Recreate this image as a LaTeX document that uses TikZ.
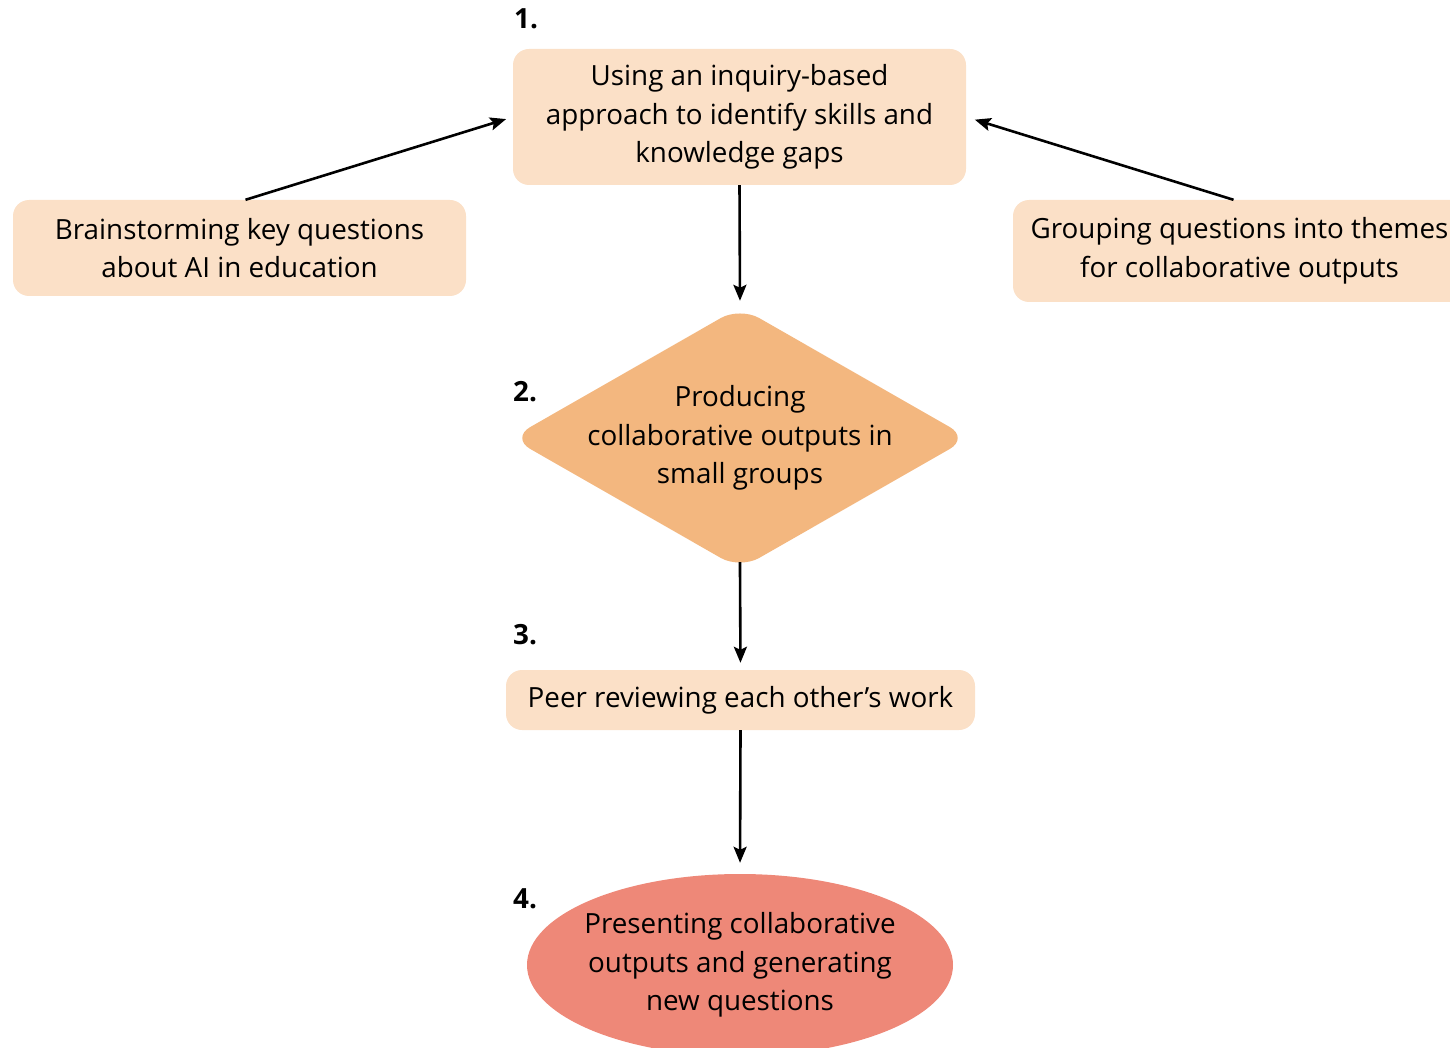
\documentclass[tikz,border=0pt]{standalone}
\usepackage{fontspec}
\setmainfont{Open Sans}
\usetikzlibrary{shapes.geometric,arrows.meta}
\definecolor{boxpeach}{HTML}{FBE0C7}
\definecolor{diamondorange}{HTML}{F3B77F}
\definecolor{ovalred}{HTML}{EE8878}
\begin{document}
\begin{tikzpicture}[x=1pt,y=-1pt,
  txt/.style={font=\fontsize{27.8}{38.5}\selectfont, align=center, text=black},
  stepbox/.style={txt, fill=boxpeach, rounded corners=16pt, inner sep=0pt},
  flow/.style={line width=2.6pt, -{Stealth[length=16pt,width=13pt,inset=3pt]}},
  num/.style={font=\fontsize{27.8}{30}\selectfont\bfseries, anchor=west, inner sep=0pt}
]
\useasboundingbox (0,0) rectangle (1450,1048);
\clip (0,0) rectangle (1450,1048);

% step 1 and its two inputs
\node[stepbox, minimum width=453pt, minimum height=136pt] (t) at (739.5,117)
  {Using an inquiry-based\\approach to identify skills and\\knowledge gaps};
\node[stepbox, minimum width=453pt, minimum height=96pt] (lb) at (239.5,248)
  {Brainstorming key questions\\about AI in education};
\node[stepbox, minimum width=453pt, minimum height=102pt] (rb) at (1239.5,251)
  {Grouping questions into themes\\for collaborative outputs};

% step 2
\node[diamond, fill=diamondorange, rounded corners=22pt, inner sep=0pt,
      minimum width=458pt, minimum height=262pt] (d) at (740,438) {};
\node[txt] (dt) at (d.center) {Producing\\collaborative outputs in\\small groups};

% step 3
\node[stepbox, minimum width=469pt, minimum height=60pt] (p) at (740.5,700)
  {Peer reviewing each other’s work};

% step 4
\node[ellipse, fill=ovalred, inner sep=0pt,
      minimum width=426pt, minimum height=182pt] (e) at (740,965) {};
\node[txt] (et) at (e.center) {Presenting collaborative\\outputs and generating\\new questions};

% step numbers
\node[num] (n1) at (514,19) {1.};
\node[num] (n2) at (513,392) {2.};
\node[num] (n3) at (513,635) {3.};
\node[num] (n4) at (513,899) {4.};

% connectors
\draw[flow, shorten >=7pt] ([xshift=6pt]lb.north) -- (t.west);
\draw[flow, shorten >=9pt] ([xshift=-6pt]rb.north) -- (t.east);
\draw[flow, shorten >=6pt] (t.south) -- (d.north);
\draw[flow, shorten <=-7pt, shorten >=7pt] (d.south) -- (p.north);
\draw[flow, shorten >=11pt] (p.south) -- (e.north);
\end{tikzpicture}
\end{document}
